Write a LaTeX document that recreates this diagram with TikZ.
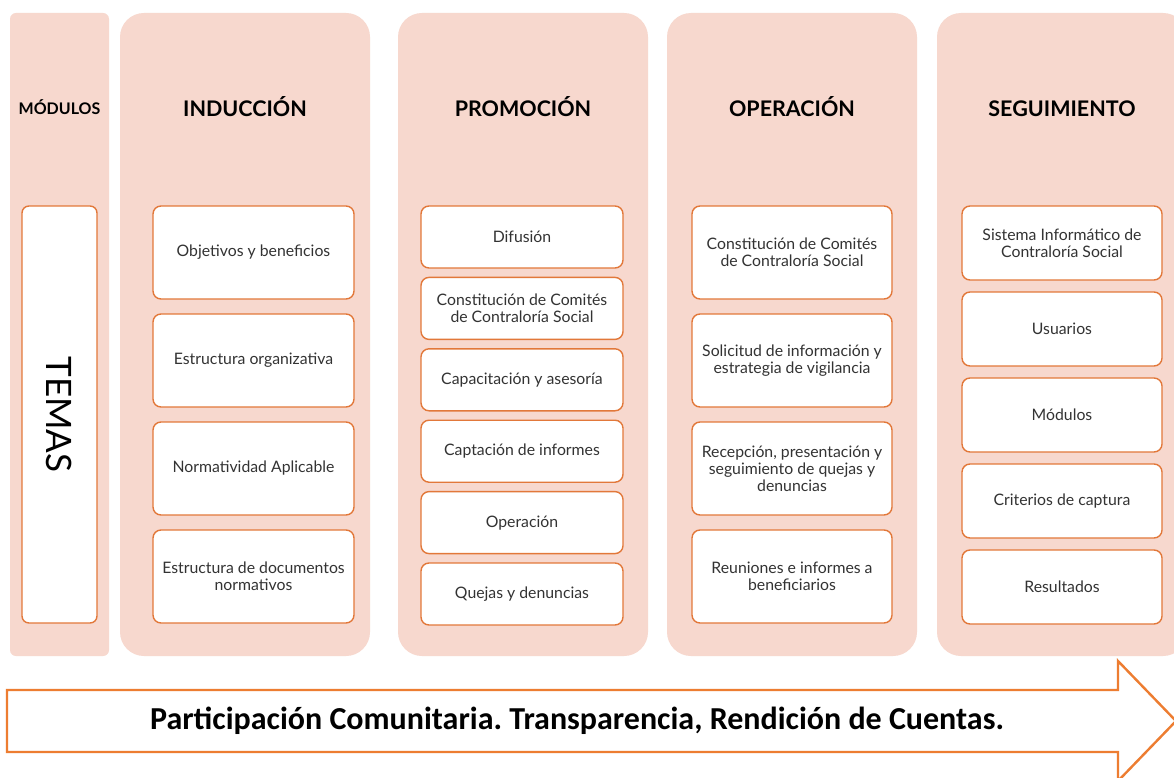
\documentclass[tikz,border=0pt]{standalone}
\usepackage{fontspec}
\setmainfont{Lato}
\newfontfamily\calfont{Carlito}
\frenchspacing
\definecolor{colpink}{HTML}{F7D8CE}
\definecolor{boxorange}{HTML}{E2783A}
\definecolor{arroworange}{HTML}{ED7D31}
\definecolor{txtgray}{HTML}{333333}
\tikzset{
  colbg/.style={fill=colpink, draw=none, rounded corners=24pt, inner sep=0pt},
  colbgs/.style={fill=colpink, draw=none, rounded corners=6pt, inner sep=0pt},
  head/.style={font=\bfseries\fontsize{21.5}{24}\selectfont, text=black, anchor=base, inner sep=0pt},
  item/.style={draw=boxorange, line width=1.4pt, rounded corners=8pt, fill=white,
    align=center, inner sep=2pt, text=txtgray,
    font=\fontsize{15.8}{17}\selectfont},
  arrowshape/.style={draw=arroworange, line width=2.4pt, fill=white, line join=miter},
}
\begin{document}
\begin{tikzpicture}[x=1pt,y=-1pt]
\useasboundingbox (0,0) rectangle (1174,778);
\fill[white] (0,0) rectangle (1174,778);
% column backgrounds
\node[colbgs, minimum width=99pt, minimum height=643pt] (c0) at (59.5,334.5) {};
\node[colbg, minimum width=250pt, minimum height=643pt] (c1) at (245,334.5) {};
\node[colbg, minimum width=250pt, minimum height=643pt] (c2) at (523,334.5) {};
\node[colbg, minimum width=250pt, minimum height=643pt] (c3) at (792,334.5) {};
\node[colbg, minimum width=250pt, minimum height=643pt] (c4) at (1062,334.5) {};
% headings
\node[head, font=\bfseries\fontsize{16}{18}\selectfont] (h0) at (59.5,115) {MÓDULOS};
\node[head] (h1) at (245,117) {INDUCCIÓN};
\node[head] (h2) at (523,117) {PROMOCIÓN};
\node[head] (h3) at (792,117) {OPERACIÓN};
\node[head] (h4) at (1062,117) {SEGUIMIENTO};
% TEMAS
\node[item, rounded corners=7pt, minimum width=75pt, minimum height=417pt] (temas) at (59.5,414.5) {};
\node[rotate=-90, text=black, font=\fontsize{35}{37}\selectfont] (temast) at (59.5,414.5) {TEMAS};
% INDUCCION
\foreach \y/\t [count=\i] in {252.5/{Objetivos y beneficios},360.5/{Estructura organizativa},468.5/{Normatividad Aplicable},576.5/{Estructura de documentos\\normativos}}{
  \node[item, minimum width=201pt, minimum height=93pt] (i\i) at (253.5,\y) {\t};
}
% PROMOCION
\foreach \y/\t [count=\i] in {237/{Difusión},308.4/{Constitución de Comités\\de Contraloría Social},379.8/{Capacitación y asesoría},451.2/{Captación de informes},522.6/{Operación},594/{Quejas y denuncias}}{
  \node[item, minimum width=202pt, minimum height=62pt] (p\i) at (522,\y) {\t};
}
% OPERACION
\foreach \y/\t [count=\i] in {252.5/{Constitución de Comités\\de Contraloría Social},360.5/{Solicitud de información y\\estrategia de vigilancia},468.5/{Recepción, presentación y\\seguimiento de quejas y\\denuncias},576.5/{Reuniones e informes a\\beneficiarios}}{
  \node[item, minimum width=200pt, minimum height=93pt] (o\i) at (792,\y) {\t};
}
% SEGUIMIENTO
\foreach \y/\t [count=\i] in {243/{Sistema Informático de\\Contraloría Social},329/{Usuarios},415/{Módulos},501/{Criterios de captura},587/{Resultados}}{
  \node[item, minimum width=200pt, minimum height=74pt] (s\i) at (1062,\y) {\t};
}
% bottom arrow
\draw[arrowshape] (7,690) -- (1118,690) -- (1118,661) -- (1176,721) -- (1118,781) -- (1118,752) -- (7,752) -- cycle;
\node[font=\calfont\bfseries\fontsize{32}{36}\selectfont, text=black] (bottom) at (577,721)
  {Participación Comunitaria. Transparencia, Rendición de Cuentas.};
\end{tikzpicture}
\end{document}
